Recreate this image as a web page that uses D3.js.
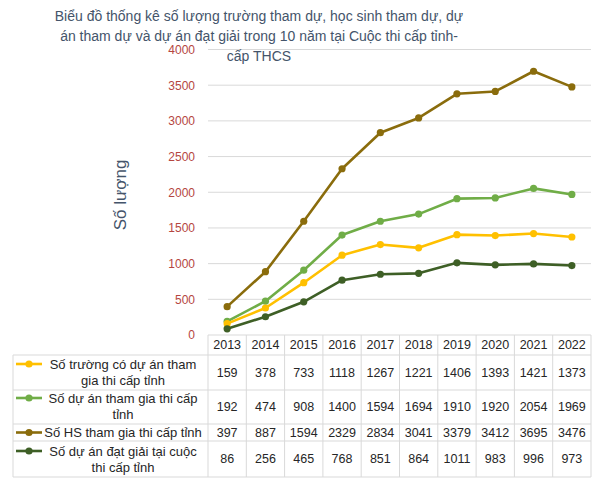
<!DOCTYPE html>
<html>
<head>
<meta charset="utf-8">
<script src="https://d3js.org/d3.v7.min.js"></script>
<style>
  body { margin: 0; background: #ffffff; font-family: "Liberation Sans", Arial, sans-serif; }
  svg { display: block; }
</style>
</head>
<body>
<div id="chart"></div>
<script>
const years = ["2013", "2014", "2015", "2016", "2017", "2018", "2019", "2020", "2021", "2022"];
const seriesNames = [
  ["Số trường có dự án tham", "gia thi cấp tỉnh"],
  ["Số dự án tham gia thi cấp", "tỉnh"],
  ["Số HS tham gia thi cấp tỉnh"],
  ["Số dự án đạt giải tại cuộc", "thi cấp tỉnh"]
];
const schools  = [159, 378, 733, 1118, 1267, 1221, 1406, 1393, 1421, 1373];
const projects = [192, 474, 908, 1400, 1594, 1694, 1910, 1920, 2054, 1969];
const students = [397, 887, 1594, 2329, 2834, 3041, 3379, 3412, 3695, 3476];
const awarded  = [86, 256, 465, 768, 851, 864, 1011, 983, 996, 973];
const yTicks = [0, 500, 1000, 1500, 2000, 2500, 3000, 3500, 4000];
const titleLines = [
  "Biểu đồ thống kê số lượng trường tham dự, học sinh tham dự, dự",
  "án tham dự và dự án đạt giải trong 10 năm tại Cuộc thi cấp tỉnh-",
  "cấp THCS"
];

const series = [schools, projects, students, awarded];
const colors = ["#ffc000", "#70ad47", "#8a6c0c", "#3e5f26"];

const svg = d3.select("#chart").append("svg")
  .attr("width", 595)
  .attr("height", 482);

const x = d3.scaleBand().domain(years).range([208, 591]);
const y = d3.scaleLinear().domain([0, 4000]).range([335, 49.5]);
const cx = d => x(d) + x.bandwidth() / 2;

// gridlines
svg.append("g")
  .selectAll("line")
  .data(yTicks.slice(1))
  .enter().append("line")
  .attr("x1", 208).attr("x2", 591)
  .attr("y1", d => y(d)).attr("y2", d => y(d))
  .attr("stroke", "#d9d9d9")
  .attr("stroke-width", 1);

// y axis labels
const yAxis = svg.append("g")
  .attr("transform", "translate(208,0)")
  .call(d3.axisLeft(y).tickValues(yTicks).tickFormat(d3.format("d")).tickSize(0).tickPadding(13));
yAxis.select(".domain").remove();
yAxis.selectAll("text")
  .attr("fill", "#b5463f")
  .style("font-size", "12px")
  .style("font-family", "'Liberation Sans', Arial, sans-serif");

// axis title
svg.append("text")
  .attr("transform", "translate(126,195) rotate(-90)")
  .attr("text-anchor", "middle")
  .attr("fill", "#44546a")
  .style("font-size", "17px")
  .text("Số lượng");

// chart title
svg.append("g")
  .selectAll("text")
  .data(titleLines)
  .enter().append("text")
  .attr("x", 259)
  .attr("y", (d, i) => 21 + i * 20)
  .attr("text-anchor", "middle")
  .attr("fill", "#44546a")
  .style("font-size", "14px")
  .text(d => d);

// lines and markers
const line = d3.line()
  .x((d, i) => cx(years[i]))
  .y(d => y(d));

const drawOrder = [2, 1, 0, 3];
drawOrder.forEach(k => {
  svg.append("path")
    .datum(series[k])
    .attr("fill", "none")
    .attr("stroke", colors[k])
    .attr("stroke-width", 2.6)
    .attr("stroke-linejoin", "round")
    .attr("d", line);
  svg.append("g")
    .selectAll("circle")
    .data(series[k])
    .enter().append("circle")
    .attr("cx", (d, i) => cx(years[i]))
    .attr("cy", d => y(d))
    .attr("r", 3.6)
    .attr("fill", colors[k]);
});

// data table
const rowTop = [335, 355, 390, 424, 441];
const rowBottom = 477;
const tbl = svg.append("g");
const border = "#d9d9d9";

// horizontal borders
tbl.append("line").attr("x1", 208).attr("x2", 591).attr("y1", 335).attr("y2", 335).attr("stroke", border);
rowTop.slice(1).concat([rowBottom]).forEach(yy => {
  tbl.append("line").attr("x1", 13).attr("x2", 591).attr("y1", yy).attr("y2", yy).attr("stroke", border);
});
// vertical borders
tbl.append("line").attr("x1", 13).attr("x2", 13).attr("y1", 355).attr("y2", rowBottom).attr("stroke", border);
years.forEach(yr => {
  tbl.append("line").attr("x1", x(yr)).attr("x2", x(yr)).attr("y1", 335).attr("y2", rowBottom).attr("stroke", border);
});
tbl.append("line").attr("x1", 591).attr("x2", 591).attr("y1", 335).attr("y2", rowBottom).attr("stroke", border);

// year header
tbl.append("g")
  .selectAll("text")
  .data(years)
  .enter().append("text")
  .attr("x", d => cx(d))
  .attr("y", 345)
  .attr("dy", "0.35em")
  .attr("text-anchor", "middle")
  .attr("fill", "#262626")
  .style("font-size", "12.5px")
  .text(d => d);

// rows
const rowCenters = [372.5, 407, 432.5, 459];
const firstLine = [364, 398, 432.5, 451];
series.forEach((vals, k) => {
  // legend key
  tbl.append("line")
    .attr("x1", 16).attr("x2", 42)
    .attr("y1", firstLine[k]).attr("y2", firstLine[k])
    .attr("stroke", colors[k]).attr("stroke-width", 2.6);
  tbl.append("circle")
    .attr("cx", 29).attr("cy", firstLine[k]).attr("r", 3.6)
    .attr("fill", colors[k]);
  // legend label
  tbl.append("g")
    .selectAll("text")
    .data(seriesNames[k])
    .enter().append("text")
    .attr("x", 123)
    .attr("y", (d, i) => firstLine[k] + i * 16)
    .attr("dy", "0.35em")
    .attr("text-anchor", "middle")
    .attr("fill", "#262626")
    .style("font-size", "13px")
    .text(d => d);
  // values
  tbl.append("g")
    .selectAll("text")
    .data(vals)
    .enter().append("text")
    .attr("x", (d, i) => cx(years[i]))
    .attr("y", rowCenters[k])
    .attr("dy", "0.35em")
    .attr("text-anchor", "middle")
    .attr("fill", "#262626")
    .style("font-size", "12.5px")
    .text(d => d);
});
</script>
</body>
</html>
